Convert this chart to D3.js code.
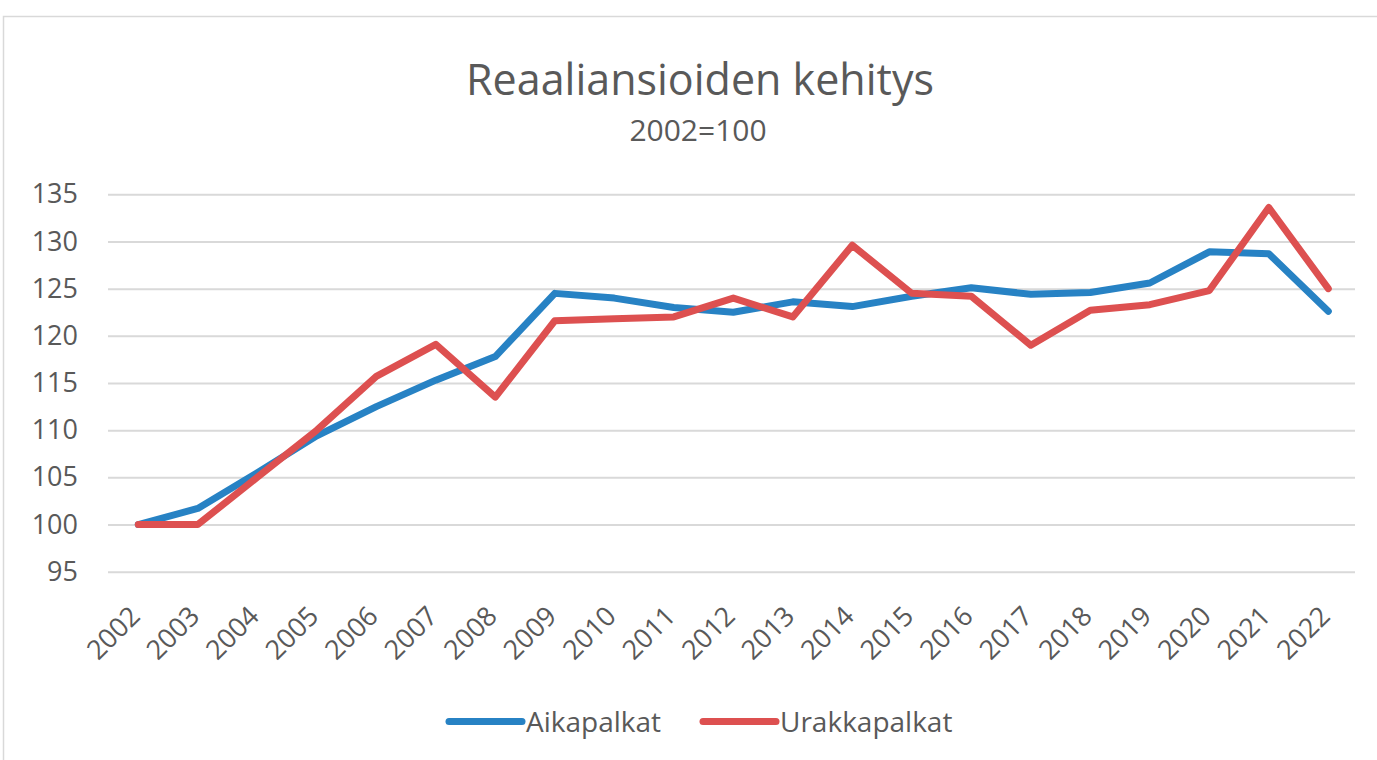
<!DOCTYPE html>
<html>
<head>
<meta charset="utf-8">
<script src="https://cdn.jsdelivr.net/npm/d3@7"></script>
<style>
  body { margin: 0; background: #fff; }
  svg text { font-family: "Open Sans", sans-serif; fill: #595959; }
</style>
</head>
<body>
<div id="chart"></div>
<script>
// data
const years = ["2002", "2003", "2004", "2005", "2006", "2007", "2008", "2009", "2010", "2011", "2012",
    "2013", "2014", "2015", "2016", "2017", "2018", "2019", "2020", "2021", "2022"];
const aikapalkat = [100, 101.7, 105.5, 109.4, 112.5, 115.3, 117.8, 124.5, 124.0, 123.0, 122.5,
    123.6, 123.1, 124.2, 125.1, 124.4, 124.6, 125.6, 128.9, 128.7, 122.6];
const urakkapalkat = [100, 100, 105.0, 110.0, 115.7, 119.1, 113.5, 121.6, 121.8, 122.0, 124.0,
    122.0, 129.6, 124.5, 124.2, 119.0, 122.7, 123.3, 124.8, 133.6, 125.0];
const yTicks = [95, 100, 105, 110, 115, 120, 125, 130, 135];

const W = 1377, H = 760;
const colors = { blue: "#2782c4", red: "#dd5050" };

const svg = d3.select("#chart")
    .append("svg")
    .attr("width", W)
    .attr("height", H);

// chart border
svg.append("rect")
    .attr("x", 3.5).attr("y", 16.5)
    .attr("width", W + 10).attr("height", H)
    .attr("fill", "#fff")
    .attr("stroke", "#d9d9d9")
    .attr("stroke-width", 1.5);

const x = d3.scalePoint()
    .domain(years)
    .range([138.3, 1328.3]);

const y = d3.scaleLinear()
    .domain([95, 135])
    .range([571.7, 194.3]);

// title
svg.append("text")
    .attr("x", 700).attr("y", 95)
    .attr("text-anchor", "middle")
    .style("font-size", "43px")
    .text("Reaaliansioiden kehitys");

svg.append("text")
    .attr("x", 698).attr("y", 141)
    .attr("text-anchor", "middle")
    .style("font-size", "30px")
    .text("2002=100");

// gridlines + y labels
const yAxis = svg.append("g")
    .attr("class", "y axis")
    .attr("transform", "translate(108,0)")
    .call(d3.axisLeft(y).tickValues(yTicks).tickSize(-1247).tickPadding(30));

yAxis.select(".domain").remove();
yAxis.selectAll(".tick line")
    .attr("stroke", "#d9d9d9")
    .attr("stroke-width", 2);
yAxis.selectAll(".tick text")
    .style("font-size", "27px")
    .attr("fill", "#595959");

// x labels
const xAxis = svg.append("g")
    .attr("class", "x axis")
    .attr("transform", "translate(0,571.7)")
    .call(d3.axisBottom(x).tickSize(0));

xAxis.select(".domain").remove();
xAxis.selectAll(".tick text")
    .style("font-size", "27px")
    .attr("fill", "#595959")
    .attr("text-anchor", "end")
    .attr("y", 0)
    .attr("dy", "0")
    .attr("transform", "translate(3,46) rotate(-45)");

// lines
const line = d3.line()
    .x((d, i) => x(years[i]))
    .y(d => y(d));

const series = [
    { name: "Aikapalkat", values: aikapalkat, color: colors.blue },
    { name: "Urakkapalkat", values: urakkapalkat, color: colors.red }
];

svg.selectAll(".series")
    .data(series)
    .enter().append("path")
    .attr("class", "series")
    .attr("d", d => line(d.values))
    .attr("fill", "none")
    .attr("stroke", d => d.color)
    .attr("stroke-width", 7)
    .attr("stroke-linejoin", "round")
    .attr("stroke-linecap", "round");

// legend
const legendX = [449, 703];
const legend = svg.selectAll(".legend")
    .data(series)
    .enter().append("g")
    .attr("class", "legend")
    .attr("transform", (d, i) => `translate(${legendX[i]},721.5)`);

legend.append("line")
    .attr("x1", 0).attr("x2", 73)
    .attr("stroke", d => d.color)
    .attr("stroke-width", 7)
    .attr("stroke-linecap", "round");

legend.append("text")
    .attr("x", 77).attr("y", 10)
    .style("font-size", "28px")
    .text(d => d.name);
</script>
</body>
</html>
